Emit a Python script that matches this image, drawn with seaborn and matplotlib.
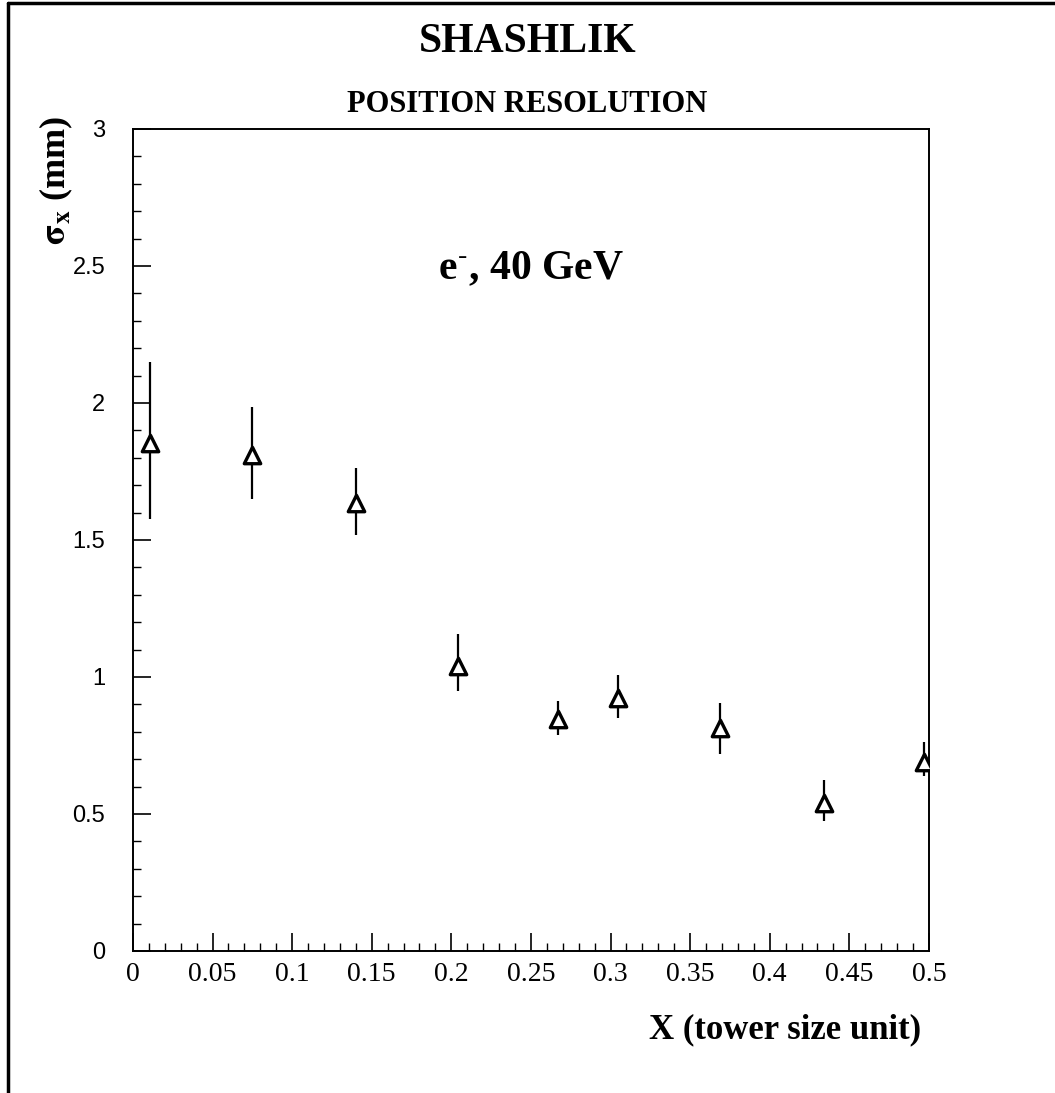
import matplotlib
matplotlib.use('Agg')
import matplotlib.pyplot as plt
import seaborn as sns
import pandas as pd
from matplotlib.lines import Line2D
from matplotlib.ticker import MultipleLocator

# values
x_pos = [0.011, 0.075, 0.140, 0.204, 0.267, 0.305, 0.369, 0.434, 0.497]
sigma_x = [1.855, 1.81, 1.635, 1.04, 0.847, 0.923, 0.814, 0.54, 0.69]
err_low = [0.28, 0.16, 0.117, 0.09, 0.059, 0.073, 0.095, 0.066, 0.051]
err_high = [0.295, 0.175, 0.128, 0.117, 0.065, 0.084, 0.091, 0.084, 0.073]

x_ticks = [0, 0.05, 0.1, 0.15, 0.2, 0.25, 0.3, 0.35, 0.4, 0.45, 0.5]
x_tick_labels = ['0', '0.05', '0.1', '0.15', '0.2', '0.25', '0.3', '0.35', '0.4', '0.45', '0.5']
y_ticks = [0, 0.5, 1, 1.5, 2, 2.5, 3]
y_tick_labels = ['0', '0.5', '1', '1.5', '2', '2.5', '3']

sns.set_theme(style='white')
plt.rcParams['font.family'] = ['Liberation Serif', 'DejaVu Serif']
plt.rcParams['mathtext.fontset'] = 'stix'
plt.rcParams['text.color'] = 'black'
plt.rcParams['xtick.color'] = 'black'
plt.rcParams['ytick.color'] = 'black'

df = pd.DataFrame({'X': x_pos, 'Sigma': sigma_x})

fig = plt.figure(figsize=(10.55, 10.93), dpi=100)
ax = fig.add_axes([0.126, 0.13, 0.7545, 0.752])

ax.errorbar(x_pos, sigma_x, yerr=[err_low, err_high], fmt='none',
            ecolor='black', elinewidth=1.6, capsize=0, zorder=2)
sns.scatterplot(data=df, x='X', y='Sigma', marker='^', s=140, color='white',
                edgecolor='black', linewidth=2.4, ax=ax, zorder=3)

ax.set_xlim(0, 0.5)
ax.set_ylim(0, 3)
ax.set_xticks(x_ticks)
ax.set_xticklabels(x_tick_labels, fontsize=20)
ax.set_yticks(y_ticks)
ax.set_yticklabels(y_tick_labels, fontsize=17, family='Liberation Sans')
ax.xaxis.set_minor_locator(MultipleLocator(0.01))
ax.yaxis.set_minor_locator(MultipleLocator(0.1))
ax.tick_params(axis='both', which='major', direction='in', length=13, width=1.2,
               left=True, bottom=True, top=False, right=False)
ax.tick_params(axis='both', which='minor', direction='in', length=6, width=1.0,
               left=True, bottom=True, top=False, right=False)
ax.tick_params(axis='x', pad=8)
ax.tick_params(axis='y', pad=20)
for s in ax.spines.values():
    s.set_color('black')
    s.set_linewidth(1.4)
ax.set_xlabel('')
ax.set_ylabel('')

ax.text(0.5, 0.83, r'e$^{\mathbf{\text{-}}}$, 40 GeV', transform=ax.transAxes,
        ha='center', va='center', fontsize=30, fontweight='bold')

fig.text(0.5, 0.962, 'SHASHLIK', ha='center', va='center', fontsize=30, fontweight='bold')
fig.text(0.5, 0.904, 'POSITION RESOLUTION', ha='center', va='center', fontsize=22, fontweight='bold')
fig.text(0.053, 0.835, r'$\mathbf{\sigma_x}$ (mm)', rotation=90, ha='center', va='center',
         fontsize=26, fontweight='bold')
fig.text(0.873, 0.058, 'X (tower size unit)', ha='right', va='center',
         fontsize=25, fontweight='bold')

# page frame from the scan
fig.add_artist(Line2D([0.008, 0.008], [0.0, 0.997], color='black', lw=2.5, transform=fig.transFigure))
fig.add_artist(Line2D([0.008, 1.0], [0.997, 0.997], color='black', lw=2.5, transform=fig.transFigure))

fig.savefig('out.png', dpi=100)
